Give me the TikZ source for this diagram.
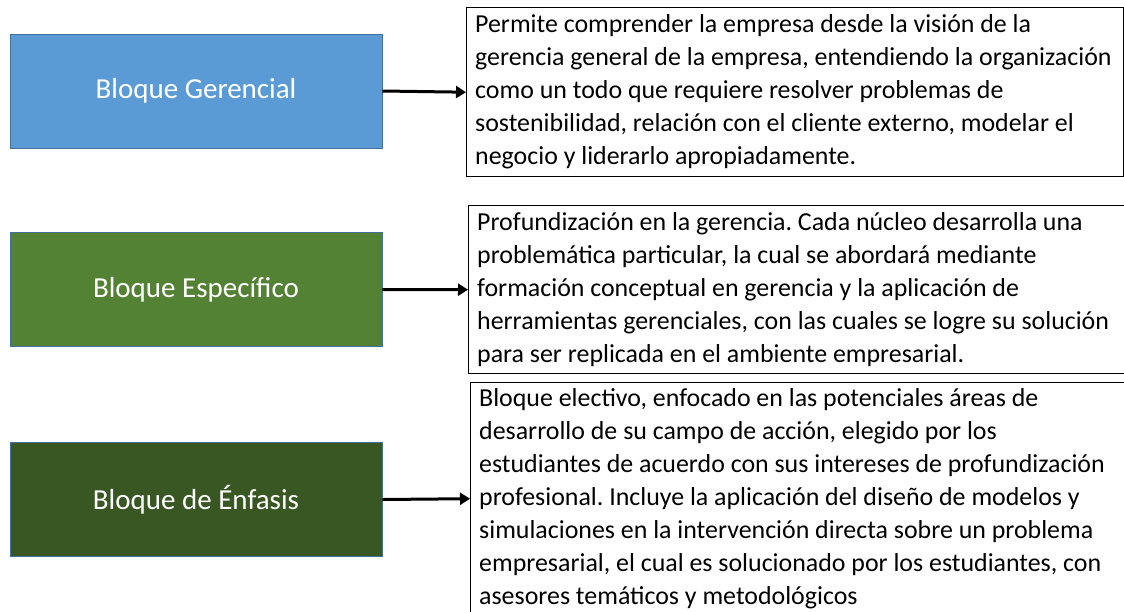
\documentclass[tikz,border=0pt]{standalone}
\usepackage{fontspec}
\setmainfont{Carlito}
\usetikzlibrary{arrows.meta}
\definecolor{azulbloque}{HTML}{5B9BD5}
\definecolor{verdebloque}{HTML}{548235}
\definecolor{verdeoscuro}{HTML}{385723}
\definecolor{bordebloque}{HTML}{41719C}
\newcommand{\letratexto}{\fontsize{25.9}{33}\selectfont\frenchspacing}
\begin{document}
\begin{tikzpicture}[x=1pt, y=-1pt]
  \useasboundingbox [fill=white] (0, 0) rectangle (1124, 611);  % Rahmen wie im Original.
  \tikzstyle{bloque}=[rectangle, draw=bordebloque, line width=0.8pt, minimum width=372pt, minimum height=114pt, inner sep=0pt, text=white, font=\fontsize{29}{34}\selectfont]
  \tikzstyle{texto}=[rectangle, draw=black, line width=1.4pt, anchor=north west, text width=640pt, inner xsep=8.5pt, inner ysep=0pt, align=flush left, font=\letratexto]
  \tikzstyle{flecha}=[line width=3pt, -{Triangle[length=10pt, width=12pt]}]

  \node[bloque, fill=azulbloque]  (g) at (196,  91) {Bloque Gerencial};
  \node[bloque, fill=verdebloque] (e) at (196, 289.5) {Bloque Específico};
  \node[bloque, fill=verdeoscuro] (f) at (196, 499.5) {Bloque de Énfasis};

  \node[texto, minimum height=169pt] (tg) at (466, 7) {Permite comprender la empresa desde la visión de la\\
    gerencia general de la empresa, entendiendo la organización\\
    como un todo que requiere resolver problemas de\\
    sostenibilidad, relación con el cliente externo, modelar el\\
    negocio y liderarlo apropiadamente.};
  \node[texto, minimum height=168pt] (te) at (468, 205) {Profundización en la gerencia. Cada núcleo desarrolla una\\
    problemática particular, la cual se abordará mediante\\
    formación conceptual en gerencia y la aplicación de\\
    herramientas gerenciales, con las cuales se logre su solución\\
    para ser replicada en el ambiente empresarial.};
  \node[texto, minimum height=232pt] (tf) at (470, 382) {Bloque electivo, enfocado en las potenciales áreas de\\
    desarrollo de su campo de acción, elegido por los\\
    estudiantes de acuerdo con sus intereses de profundización\\
    profesional. Incluye la aplicación del diseño de modelos y\\
    simulaciones en la intervención directa sobre un problema\\
    empresarial, el cual es solucionado por los estudiantes, con\\
    asesores temáticos y metodológicos};

  \draw[flecha] (g.east) -- (tg.west);
  \draw[flecha] (e.east) -- (te.west);
  \draw[flecha] (f.east) -- (tf.west);
\end{tikzpicture}
\end{document}
